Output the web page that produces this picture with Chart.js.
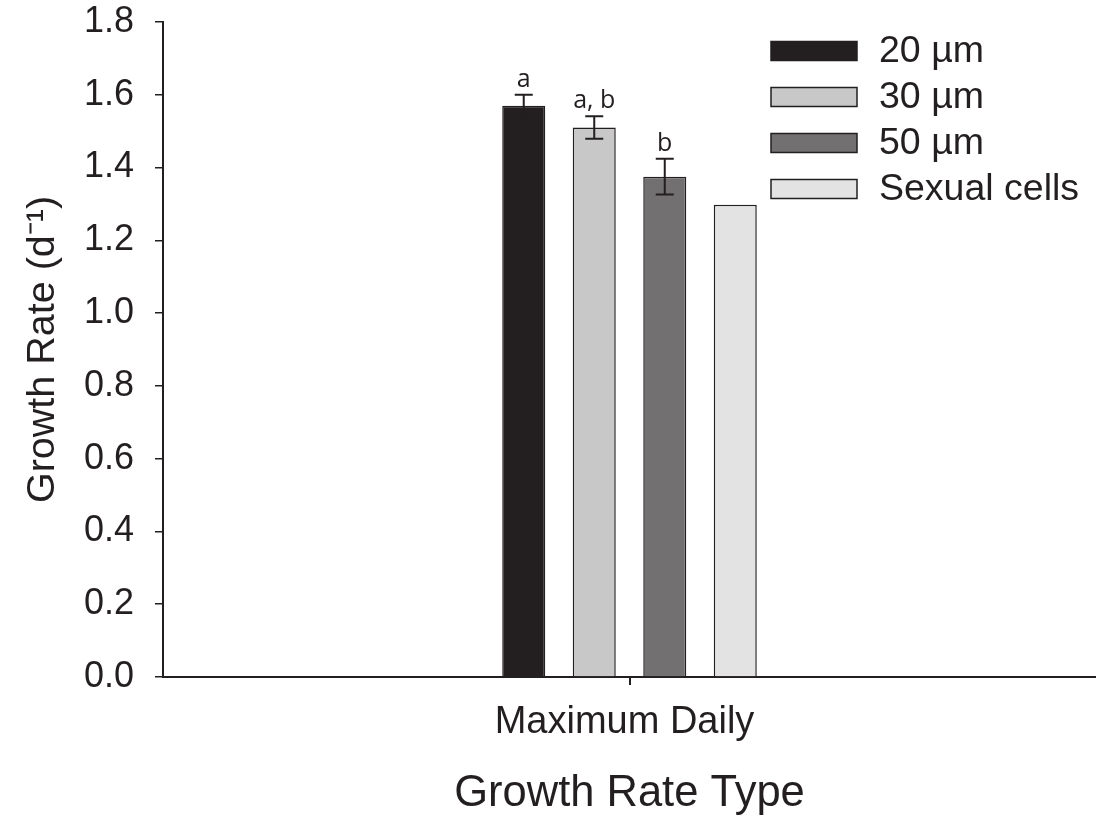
<!DOCTYPE html>
<html>
<head>
<meta charset="utf-8">
<script src="https://cdn.jsdelivr.net/npm/chart.js@4.4.1/dist/chart.umd.min.js"></script>
<style>
html,body{margin:0;padding:0;background:#fff;}
canvas{display:block;}
</style>
</head>
<body>
<canvas id="c" width="1096" height="816"></canvas>
<script>
// ---- data ----
const categories = ['Maximum Daily'];
const seriesNames = ['20 µm', '30 µm', '50 µm', 'Sexual cells'];
const values20 = [1.57];
const values30 = [1.51];
const values50 = [1.375];
const valuesSexual = [1.298];
const errors20 = [0.03];
const errors30 = [0.031];
const errors50 = [0.049];
const errorsSexual = [null];
const letters20 = ['a'];
const letters30 = ['a, b'];
const letters50 = ['b'];
const lettersSexual = [''];
const yTicks = [0, 0.2, 0.4, 0.6, 0.8, 1.0, 1.2, 1.4, 1.6, 1.8];
const xTitle = 'Growth Rate Type';
const yTitle = 'Growth Rate (d\u207B\u00B9)';

// ---- styles ----
const INK = '#231f20';
const FONT = '"Liberation Sans", Arial, Helvetica, sans-serif';
const fills = ['#231f20', '#c8c8c8', '#727071', '#e3e3e3'];

const seriesValues = [values20, values30, values50, valuesSexual];
const seriesErrors = [errors20, errors30, errors50, errorsSexual];
const seriesLetters = [letters20, letters30, letters50, lettersSexual];

const datasets = seriesNames.map((name, i) => ({
  label: name,
  data: seriesValues[i],
  errors: seriesErrors[i],
  letters: seriesLetters[i],
  backgroundColor: fills[i],
  borderColor: INK,
  borderWidth: 1.5,
  borderSkipped: 'bottom',
  barPercentage: 0.61,
  categoryPercentage: 0.3023
}));

const errorBarPlugin = {
  id: 'errorBars',
  afterDatasetsDraw(chart) {
    const ctx = chart.ctx;
    const y = chart.scales.y;
    chart.data.datasets.forEach((ds, i) => {
      const meta = chart.getDatasetMeta(i);
      meta.data.forEach((el, j) => {
        const v = ds.data[j];
        const e = ds.errors ? ds.errors[j] : null;
        let topPx = y.getPixelForValue(v);
        if (e != null) {
          const yt = y.getPixelForValue(v + e);
          const yb = y.getPixelForValue(v - e);
          ctx.save();
          ctx.strokeStyle = INK;
          ctx.lineWidth = 2;
          ctx.beginPath();
          ctx.moveTo(el.x, yt); ctx.lineTo(el.x, yb);
          ctx.moveTo(el.x - 9, yt); ctx.lineTo(el.x + 9, yt);
          ctx.moveTo(el.x - 9, yb); ctx.lineTo(el.x + 9, yb);
          ctx.stroke();
          ctx.restore();
          topPx = yt;
        }
        const letter = ds.letters ? ds.letters[j] : '';
        if (letter) {
          ctx.save();
          ctx.fillStyle = INK;
          ctx.font = '25px "Open Sans", sans-serif';
          ctx.textAlign = 'center';
          ctx.textBaseline = 'alphabetic';
          ctx.fillText(letter, el.x, topPx - 8);
          ctx.restore();
        }
      });
    });
  }
};

const legendPlugin = {
  id: 'insideLegend',
  afterDraw(chart) {
    const ctx = chart.ctx;
    chart.data.datasets.forEach((ds, i) => {
      const cy = 51 + i * 46;
      ctx.save();
      ctx.fillStyle = ds.backgroundColor;
      ctx.fillRect(771, cy - 9.5, 86, 19);
      ctx.strokeStyle = INK;
      ctx.lineWidth = 1.5;
      ctx.strokeRect(771, cy - 9.5, 86, 19);
      ctx.fillStyle = INK;
      ctx.font = '37.5px ' + FONT;
      ctx.textAlign = 'left';
      ctx.textBaseline = 'middle';
      ctx.fillText(ds.label, 879, cy + 1);
      ctx.restore();
    });
  }
};

new Chart(document.getElementById('c'), {
  type: 'bar',
  data: { labels: categories, datasets },
  options: {
    responsive: false,
    animation: false,
    devicePixelRatio: 1,
    layout: { padding: { top: 22, right: 0, left: 0, bottom: 0 } },
    plugins: { legend: { display: false }, tooltip: { enabled: false } },
    scales: {
      x: {
        offset: true,
        grid: { display: true, drawOnChartArea: false, offset: false, tickLength: 8, color: INK, lineWidth: 2 },
        border: { display: true, color: INK, width: 2 },
        ticks: { font: { size: 38, family: FONT }, color: INK, padding: 15, labelOffset: -5 },
        title: { display: true, text: xTitle, font: { size: 43.5, family: FONT, lineHeight: 1 }, color: INK, padding: 0 },
        afterFit(s) { s.height = 139; s.paddingLeft = 0; s.paddingRight = 0; }
      },
      y: {
        min: 0, max: 1.8,
        afterBuildTicks(s) { s.ticks = yTicks.map(v => ({ value: v })); },
        grid: { display: true, drawOnChartArea: false, tickLength: 8, color: INK, lineWidth: 1.5 },
        border: { display: true, color: INK, width: 2 },
        ticks: { font: { size: 36, family: FONT }, color: INK, padding: 21, callback: v => Number(v).toFixed(1) },
        title: { display: true, text: yTitle, font: { size: 39.5, family: FONT, lineHeight: 1 }, color: INK, padding: 23 },
        afterFit(s) { s.width = 163; s.paddingTop = 0; s.paddingBottom = 0; }
      }
    }
  },
  plugins: [errorBarPlugin, legendPlugin]
});
</script>
</body>
</html>
